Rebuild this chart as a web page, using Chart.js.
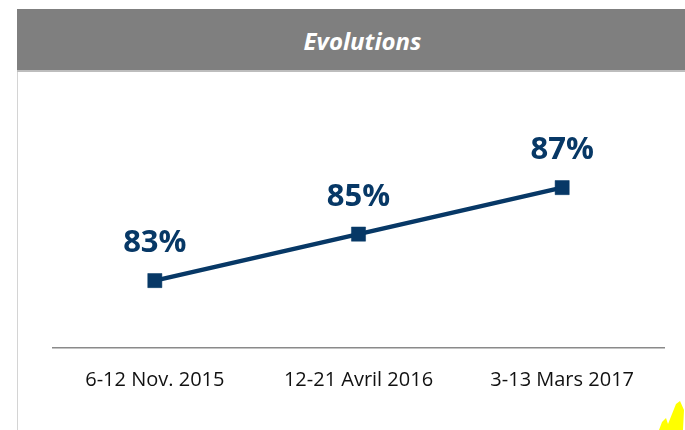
<!DOCTYPE html>
<html>
<head>
<meta charset="utf-8">
<script src="https://cdn.jsdelivr.net/npm/chart.js@4"></script>
<style>
	html, body { margin: 0; padding: 0; background: #fff; }
	body { width: 685px; height: 430px; position: relative; overflow: hidden; font-family: "Open Sans", sans-serif; }
	.frame-left { position: absolute; left: 17px; top: 9px; width: 1px; height: 421px; background: #d4d4d4; }
	.header { position: absolute; left: 17px; top: 9px; width: 683px; height: 61px; background: #7f7f7f; border-bottom: 2px solid #bdbdbd; }
	.header h1 { margin: 0; padding-left: 8px; color: #fff; font: italic bold 24px "Open Sans", sans-serif; text-align: center; line-height: 63px; }
	#evo-chart { position: absolute; left: 0; top: 0; }
	.mark { position: absolute; left: 0; top: 0; }
</style>
</head>
<body>
<div class="frame-left"></div>
<div class="header"><h1>Evolutions</h1></div>
<canvas id="evo-chart" width="685" height="430"></canvas>
<svg class="mark" width="685" height="430"><polygon points="659,430 662,422 666,418 668,424 672,414 676,404 680,401 684,410 683,430" fill="#ffff00"/></svg>
<script>
const periods = ['6-12 Nov. 2015', '12-21 Avril 2016', '3-13 Mars 2017'];
const scores = [83, 85, 87];

const navy = '#073866';

// value labels above each point, placed from the element positions
const valueLabels = {
	id: 'valueLabels',
	afterDatasetsDraw(chart) {
		const c = chart.ctx;
		const meta = chart.getDatasetMeta(0);
		c.save();
		c.font = 'bold 31px "Open Sans"';
		c.fillStyle = navy;
		c.textAlign = 'center';
		c.textBaseline = 'middle';
		meta.data.forEach((pt, i) => {
			c.fillText(scores[i] + '%', pt.x, pt.y - 37);
		});
		c.restore();
	}
};

const ctx = document.getElementById('evo-chart').getContext('2d');

new Chart(ctx, {
	type: 'line',
	data: {
		labels: periods,
		datasets: [{
			data: scores,
			borderColor: navy,
			backgroundColor: navy,
			borderWidth: 4.5,
			pointStyle: 'rect',
			pointRadius: 10,
			pointBorderWidth: 0.5,
			pointBorderColor: navy,
			pointBackgroundColor: navy,
			tension: 0,
		}],
	},
	options: {
		responsive: false,
		animation: false,
		layout: {
			padding: { left: 53, right: 21, top: 94.6, bottom: 0 },
		},
		plugins: {
			legend: { display: false },
			tooltip: { enabled: false },
		},
		scales: {
			x: {
				offset: true,
				grid: { display: false, drawTicks: false },
				border: { display: true, color: '#8a8a8a', width: 1.5 },
				ticks: {
					color: '#111',
					font: { family: 'Open Sans', size: 20 },
					padding: 20,
					maxRotation: 0,
				},
				afterFit(scale) {
					scale.height = 82;
				},
			},
			y: {
				display: false,
				min: 80.1,
				max: 91,
			},
		},
	},
	plugins: [valueLabels],
});
</script>
</body>
</html>
